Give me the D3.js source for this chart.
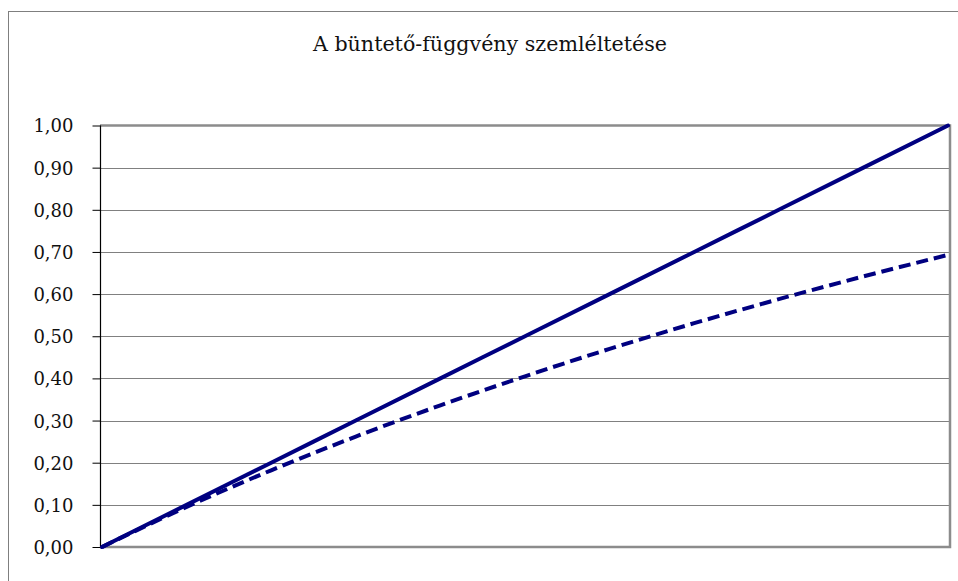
<!DOCTYPE html>
<html>
<head>
<meta charset="utf-8">
<script src="https://cdn.jsdelivr.net/npm/d3@7"></script>
<style>
  body { margin: 0; background: #fff; }
  svg { display: block; }
</style>
</head>
<body>
<div id="chart"></div>
<script>
"use strict";

// chart text
var TITLE = "A büntető-függvény szemléltetése";

// x positions (share of the way along the category axis)
var xValues = [0, 0.1, 0.2, 0.3, 0.4, 0.5, 0.6, 0.7, 0.8, 0.9, 1.0];
// solid line
var solidValues = [0, 0.10, 0.20, 0.30, 0.40, 0.50, 0.60, 0.70, 0.80, 0.90, 1.00];
// dashed line
var dashedValues = [0, 0.095, 0.182, 0.262, 0.336, 0.405, 0.470, 0.531, 0.588, 0.642, 0.693];
// y tick labels
var yTicks = [0, 0.1, 0.2, 0.3, 0.4, 0.5, 0.6, 0.7, 0.8, 0.9, 1.0];

var LINE_COLOR = "#000080";
var GRID_COLOR = "#808080";
var SERIF = "DejaVu Serif";

function main() {
  var width = 958;
  var height = 581;

  var plot = { left: 100, top: 125.5, right: 950, bottom: 547 };

  var svg = d3.select("#chart")
    .append("svg")
    .attr("width", width)
    .attr("height", height);

  // outer chart frame (runs off the right and bottom)
  svg.append("rect")
    .attr("x", 8.5)
    .attr("y", 11.5)
    .attr("width", width)
    .attr("height", height)
    .attr("fill", "none")
    .attr("stroke", "#7f7f7f")
    .attr("stroke-width", 1);

  svg.append("text")
    .attr("x", 490)
    .attr("y", 51)
    .attr("text-anchor", "middle")
    .attr("font-family", SERIF)
    .attr("font-size", 21)
    .attr("fill", "#111")
    .attr("textLength", 354)
    .attr("lengthAdjust", "spacingAndGlyphs")
    .text(TITLE);

  var x = d3.scaleLinear().domain([0, 1]).range([plot.left + 2, plot.right - 2]);
  var y = d3.scaleLinear().domain([0, 1]).range([plot.bottom, plot.top]);

  // gridlines
  svg.append("g")
    .selectAll("line")
    .data(yTicks.slice(1, -1))
    .enter()
    .append("line")
    .attr("x1", plot.left)
    .attr("x2", plot.right)
    .attr("y1", function(d) { return Math.round(y(d)) + 0.5; })
    .attr("y2", function(d) { return Math.round(y(d)) + 0.5; })
    .attr("stroke", GRID_COLOR)
    .attr("stroke-width", 1);

  // plot border (top, right, bottom)
  svg.append("path")
    .attr("d", "M" + plot.left + "," + plot.top + "H" + plot.right + "V" + plot.bottom + "H" + plot.left)
    .attr("fill", "none")
    .attr("stroke", "#8c8c8c")
    .attr("stroke-width", 2.5);

  // y axis with ticks outside
  var yAxis = d3.axisLeft(y)
    .tickValues(yTicks)
    .tickSize(8)
    .tickPadding(19)
    .tickFormat(function(d) { return d3.format(".2f")(d).replace(".", ","); });

  var axisG = svg.append("g")
    .attr("transform", "translate(" + (plot.left + 0.5) + ",0)")
    .call(yAxis)
    .attr("font-family", SERIF)
    .attr("font-size", 18);

  axisG.select(".domain")
    .attr("d", "M0," + plot.top + "V" + plot.bottom)
    .attr("stroke", "#000")
    .attr("stroke-width", 1.2);
  axisG.selectAll(".tick line").attr("stroke", "#000");
  axisG.selectAll(".tick text")
    .attr("fill", "#111")
    .attr("dy", "0.36em");

  var line = d3.line()
    .x(function(d) { return x(d[0]); })
    .y(function(d) { return y(d[1]); })
    .curve(d3.curveMonotoneX);

  var solid = xValues.map(function(v, i) { return [v, solidValues[i]]; });
  var dashed = xValues.map(function(v, i) { return [v, dashedValues[i]]; });

  svg.append("path")
    .datum(dashed)
    .attr("d", line)
    .attr("fill", "none")
    .attr("stroke", LINE_COLOR)
    .attr("stroke-width", 4)
    .attr("stroke-dasharray", "12,6");

  svg.append("path")
    .datum(solid)
    .attr("d", line)
    .attr("fill", "none")
    .attr("stroke", LINE_COLOR)
    .attr("stroke-width", 4)
    .attr("stroke-linecap", "round");
}

main();
</script>
</body>
</html>
